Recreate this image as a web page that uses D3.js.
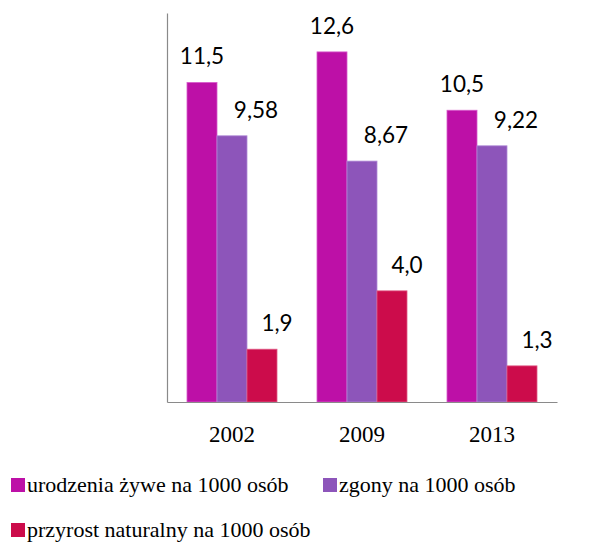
<!DOCTYPE html>
<html>
<head>
<meta charset="utf-8">
<script src="https://cdn.jsdelivr.net/npm/d3@7"></script>
<style>
  html, body { margin: 0; padding: 0; background: #fff; }
  svg { display: block; }
</style>
</head>
<body>
<svg id="chart" width="598" height="542"></svg>
<script>
// ---- data ----
const categories = ["2002", "2009", "2013"];
const seriesNames = ["urodzenia żywe na 1000 osób", "zgony na 1000 osób", "przyrost naturalny na 1000 osób"];
const births = [11.5, 12.6, 10.5];
const deaths = [9.58, 8.67, 9.22];
const growth = [1.9, 4.0, 1.3];
const labelsBirths = ["11,5", "12,6", "10,5"];
const labelsDeaths = ["9,58", "8,67", "9,22"];
const labelsGrowth = ["1,9", "4,0", "1,3"];

const seriesValues = [births, deaths, growth];
const seriesLabels = [labelsBirths, labelsDeaths, labelsGrowth];
const colors = ["#BD10A7", "#8D55BA", "#CC0C4B"];
const strokes = ["#D85ACB", "#B08AD6", "#E05A85"];

const SERIF = '"Liberation Serif", "Times New Roman", serif';
const SANS = 'Lato, "Open Sans", sans-serif';

const svg = d3.select("#chart");

const x0 = d3.scaleBand().domain(categories).range([167, 557]).paddingInner(0).paddingOuter(0);
const x1 = d3.scaleBand().domain(d3.range(3)).range([0, x0.bandwidth()]).paddingInner(0).paddingOuter(2/3);
const y = d3.scaleLinear().domain([0, 14]).range([402, 13]);

// bars
const labelDx = [0, 24, 15];
seriesValues.forEach((vals, s) => {
  const g = svg.append("g");
  g.selectAll("rect").data(vals).join("rect")
    .attr("x", (d, i) => x0(categories[i]) + x1(s))
    .attr("y", d => y(d))
    .attr("width", x1.bandwidth())
    .attr("height", d => y(0) - y(d))
    .attr("fill", colors[s])
    .attr("stroke", strokes[s])
    .attr("stroke-width", 0.8);
  g.selectAll("text").data(vals).join("text")
    .attr("x", (d, i) => x0(categories[i]) + x1(s) + x1.bandwidth() / 2 + labelDx[s])
    .attr("y", d => y(d) - 18)
    .attr("text-anchor", "middle")
    .style("font-family", SANS)
    .style("font-size", "22.5px")
    .attr("fill", "#000")
    .text((d, i) => seriesLabels[s][i]);
});

// axes lines
const yAxis = d3.axisLeft(y).tickValues([]).tickSize(0);
svg.append("g").attr("transform", "translate(167,0)").call(yAxis)
  .call(g => g.select(".domain").attr("stroke", "#8a8a8a").attr("stroke-width", 1.2));
const xAxis = d3.axisBottom(x0).tickSize(0).tickPadding(0);
svg.append("g").attr("transform", "translate(0,402)").call(xAxis)
  .call(g => {
    g.select(".domain").attr("stroke", "#8a8a8a").attr("stroke-width", 1.2);
    g.selectAll(".tick text")
      .attr("y", 40)
      .attr("dy", 0)
      .style("font-family", SERIF)
      .style("font-size", "23px")
      .attr("fill", "#000");
  });

// legend
const legendPos = [[11, 478], [323, 478], [11, 523]];
seriesNames.forEach((name, s) => {
  const [lx, ly] = legendPos[s];
  svg.append("rect").attr("x", lx).attr("y", ly).attr("width", 14).attr("height", 14).attr("fill", colors[s]);
  svg.append("text").attr("x", lx + 16).attr("y", ly + 14)
    .style("font-family", SERIF)
    .style("font-size", "22px").attr("fill", "#000").text(name);
});
</script>
</body>
</html>
